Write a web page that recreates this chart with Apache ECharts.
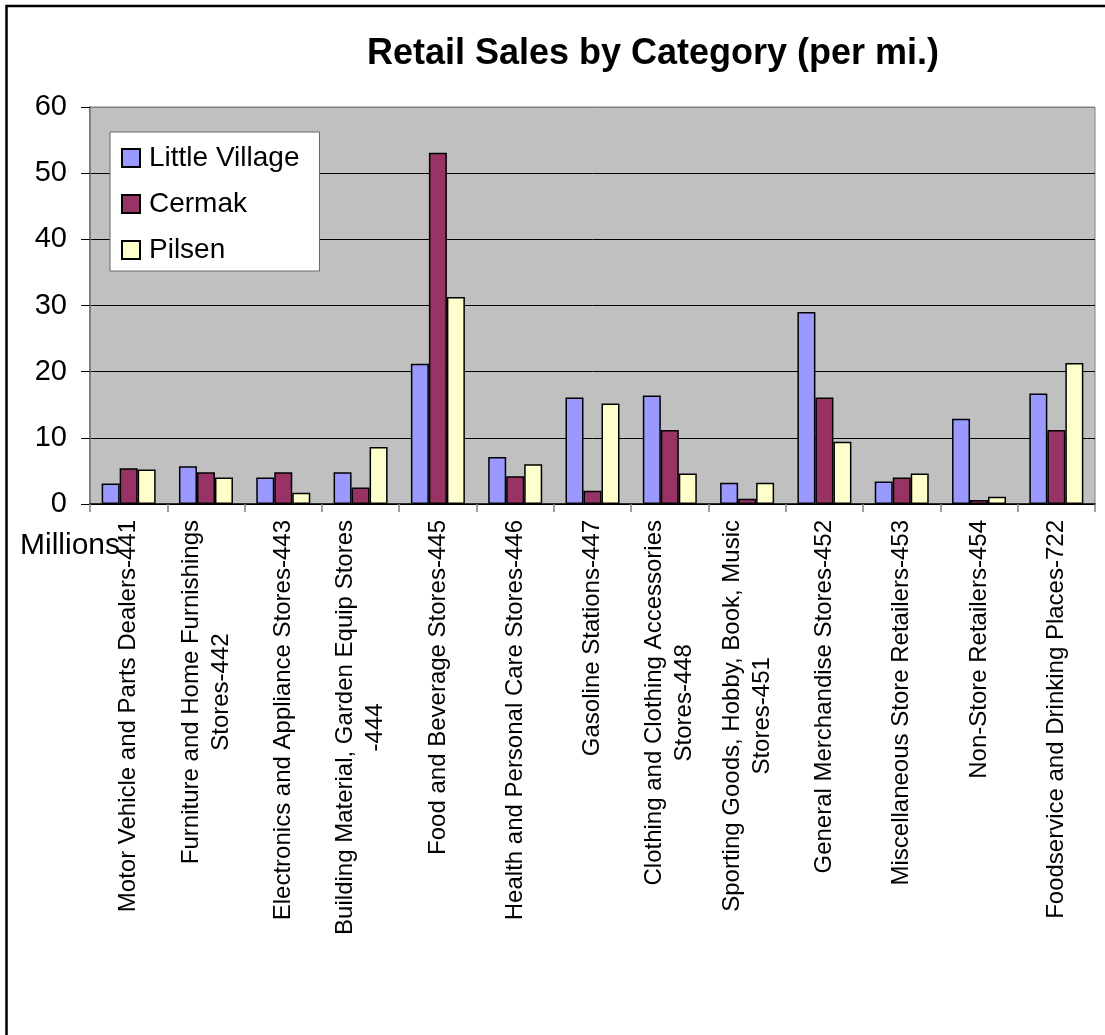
<!DOCTYPE html>
<html>
<head>
<meta charset="utf-8">
<title>Retail Sales by Category (per mi.)</title>
<script src="https://cdn.jsdelivr.net/npm/echarts@6/dist/echarts.min.js"></script>
<style>
  html, body { margin: 0; padding: 0; background: #ffffff; }
  #chart { width: 1105px; height: 1035px; }
</style>
</head>
<body>
<div id="chart"></div>
<script>
// Retail categories (NAICS code appended); '\n' marks where a label wraps.
const categories = [
  'Motor Vehicle and Parts Dealers-441',
  'Furniture and Home Furnishings\nStores-442',
  'Electronics and Appliance Stores-443',
  'Building Material, Garden Equip Stores\n-444',
  'Food and Beverage Stores-445',
  'Health and Personal Care Stores-446',
  'Gasoline Stations-447',
  'Clothing and Clothing Accessories\nStores-448',
  'Sporting Goods, Hobby, Book, Music\nStores-451',
  'General Merchandise Stores-452',
  'Miscellaneous Store Retailers-453',
  'Non-Store Retailers-454',
  'Foodservice and Drinking Places-722'
];

// Sales per mile, in millions
const littleVillage = [3.1, 5.7, 4.0, 4.8, 21.2, 7.1, 16.1, 16.4, 3.2, 29.0, 3.4, 12.9, 16.7];
const cermak        = [5.4, 4.8, 4.8, 2.5, 53.1, 4.2, 2.0, 11.2, 0.8, 16.1, 4.0, 0.6, 11.2];
const pilsen        = [5.2, 4.0, 1.7, 8.6, 31.3, 6.0, 15.2, 4.6, 3.2, 9.4, 4.6, 1.1, 21.3];

const seriesNames = ['Little Village', 'Cermak', 'Pilsen'];
const yTicks = { min: 0, max: 60, interval: 10 };

const FONT = "'Liberation Sans', Arial, Helvetica, sans-serif";
const colors = ['#9999FF', '#993366', '#FFFFCC'];

const chart = echarts.init(document.getElementById('chart'), null, { renderer: 'canvas' });

function barSeries(name, data, color) {
  return {
    name: name,
    type: 'bar',
    data: data,
    barWidth: 18,
    barGap: '0%',
    itemStyle: { color: color, borderColor: '#000000', borderWidth: 1.5 },
    emphasis: { disabled: true },
    animation: false
  };
}

chart.setOption({
  backgroundColor: '#ffffff',
  animation: false,
  title: {
    text: 'Retail Sales by Category (per mi.)',
    left: 653,
    top: 36,
    padding: 0,
    textAlign: 'center',
    textStyle: { fontFamily: FONT, fontSize: 36, fontWeight: 'bold', color: '#000000' }
  },
  legend: {
    orient: 'vertical',
    left: 110,
    top: 132,
    padding: [12, 20, 7, 11],
    itemGap: 18,
    itemWidth: 18,
    itemHeight: 18,
    icon: 'rect',
    backgroundColor: '#ffffff',
    borderColor: '#666666',
    borderWidth: 1,
    borderRadius: 0,
    data: seriesNames,
    textStyle: { fontFamily: FONT, fontSize: 28, color: '#000000', padding: [0, 0, 0, 4] }
  },
  grid: {
    left: 90,
    top: 107,
    right: 10,
    bottom: 531,
    show: true,
    backgroundColor: '#C0C0C0',
    borderColor: '#808080',
    borderWidth: 1,
    containLabel: false,
    outerBoundsMode: 'none'
  },
  xAxis: {
    type: 'category',
    data: categories,
    axisLine: { show: true, lineStyle: { color: '#000000', width: 1.5 } },
    axisTick: { show: true, length: 8, lineStyle: { color: '#808080', width: 1.5 } },
    axisLabel: {
      interval: 0,
      rotate: 90,
      margin: 16,
      color: '#000000',
      fontFamily: FONT,
      fontSize: 24,
      formatter: function (value) {
        return value.split('\n').map(function (line) { return '{c|' + line + '}'; }).join('\n');
      },
      rich: {
        c: { align: 'center', fontFamily: FONT, fontSize: 24, lineHeight: 30, color: '#000000' }
      }
    },
    splitLine: { show: false }
  },
  yAxis: {
    type: 'value',
    min: yTicks.min,
    max: yTicks.max,
    interval: yTicks.interval,
    axisLine: { show: true, lineStyle: { color: '#808080', width: 2 } },
    axisTick: { show: true, length: 9, lineStyle: { color: '#000000', width: 1 } },
    axisLabel: { margin: 23, color: '#000000', fontFamily: FONT, fontSize: 29 },
    splitLine: {
      show: true,
      lineStyle: {
        color: ['#000000', '#000000', '#000000', '#000000', '#000000', '#000000', '#808080'],
        width: 1
      }
    }
  },
  graphic: [
    {
      // frame around the chart on its left and top sides
      type: 'polyline',
      shape: { points: [[6.5, 1035], [6.5, 6], [1105, 6]] },
      style: { stroke: '#000000', lineWidth: 2.5, fill: null },
      silent: true
    },
    {
      type: 'text',
      left: 20,
      top: 531,
      style: { text: 'Millions', fill: '#000000', font: '30px ' + FONT },
      silent: true
    }
  ],
  series: [
    barSeries(seriesNames[0], littleVillage, colors[0]),
    barSeries(seriesNames[1], cermak, colors[1]),
    barSeries(seriesNames[2], pilsen, colors[2])
  ]
});
</script>
</body>
</html>
